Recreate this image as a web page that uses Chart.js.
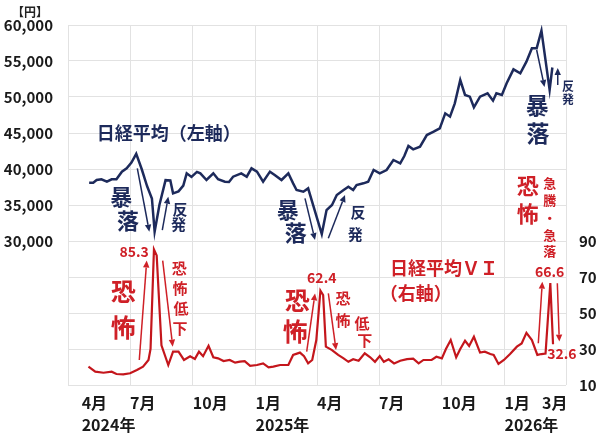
<!DOCTYPE html>
<html><head><meta charset="utf-8">
<script src="https://cdn.jsdelivr.net/npm/chart.js@4"></script>
<style>html,body{margin:0;padding:0;background:#fff;}#wrap{width:600px;height:433px;position:relative;}</style>
</head><body><div id="wrap"><canvas id="c"></canvas></div>
<script>
// x values: days since 2024-04-01
const nikkeiDays = [31,37,42,49,57,64,71,79,86,93,100,108,116,123,127,134,143,150,154,162,169,174,181,189,194,203,213,220,230,236,242,254,262,269,277,286,296,303,313,323,330,335,345,352,360,372,379,387,394,404,411,418,423,433,440,448,457,467,477,487,493,499,506,516,526,536,545,553,560,567,575,582,589,595,604,615,623,628,636,643,653,663,672,680,687,694,706,710];
const nikkeiValues = [38100,38100,38470,38570,38240,38570,38570,39630,40090,40900,42100,40000,37600,35900,31300,35000,38450,38400,36620,36900,37700,39400,38900,39600,39400,38470,39400,38570,38240,38200,38930,39400,38930,40090,39630,38240,39630,39170,38470,39400,38010,37080,36850,37310,34770,30970,34300,35000,36390,37080,37540,37080,37780,38010,38240,39860,39400,39860,41250,40790,41800,43200,42730,43100,44720,45180,45650,47730,47270,49120,52360,50280,50050,48570,50050,50510,49490,50510,50280,51900,53840,53290,54910,56760,56760,59210,51000,54100];
const viDays = [30,40,52,64,71,81,91,101,110,118,121,126,130,137,147,154,162,170,179,186,192,198,206,213,220,228,237,245,252,259,267,277,286,294,301,311,323,330,340,346,352,358,364,370,374,378,387,396,404,411,418,426,435,443,450,457,463,470,478,487,497,506,514,521,533,540,548,554,561,569,575,582,588,595,604,611,619,624,631,639,648,658,665,672,680,688,694,700,707,711];
const viValues = [20.2,17.4,16.8,17.4,16.1,15.9,16.5,18.3,20.2,23.9,30,85.3,82,32,21.1,28.5,28.5,23.9,26,24.5,28.5,26,31.8,25.4,24.8,23.3,23.9,22.4,23,23.3,20.6,21.1,22,19.8,20.2,21.1,21.1,26.7,28,26,22,23.9,35,62.4,60,31.3,29.4,26.7,24.8,22.9,24.3,23.5,27.6,25.4,22.9,26.1,22.9,24.3,22,23.5,24.4,24.6,22,23.9,23.9,25.7,24.8,30,35,25.4,30,34.6,31.7,36.8,28,28.5,27.2,26.7,21.7,23.9,27.2,31.3,33.1,39,35,26.7,27.2,27.5,66.6,32.6];

const monthTickDays = [20,91,183,275,365,456,548,640,695];
const monthTickLabels = [['4月','2024年'],'7月','10月',['1月','2025年'],'4月','7月','10月',['1月','2026年'],'3月'];
const quarterGridDays = [0,91,183,275,365,456,548,640,730];

const NAVY = '#1d2a5b', RED = '#cf2027', REDLINE = '#c4161c';
const notes = [
  {t:'日経平均（左軸）', x:42, y:45000, ax:'y', c:NAVY, s:18, a:'left'},
  {t:'暴', x:78, y:36100, ax:'y', c:NAVY, s:22},
  {t:'落', x:88, y:32800, ax:'y', c:NAVY, s:22},
  {t:'反', x:164, y:34450, ax:'y', c:NAVY, s:15},
  {t:'発', x:162, y:32350, ax:'y', c:NAVY, s:15},
  {t:'暴', x:322, y:34300, ax:'y', c:NAVY, s:22},
  {t:'落', x:334, y:31100, ax:'y', c:NAVY, s:22},
  {t:'反', x:425, y:34000, ax:'y', c:NAVY, s:15},
  {t:'発', x:421, y:30950, ax:'y', c:NAVY, s:15},
  {t:'暴', x:688, y:48900, ax:'y', c:NAVY, s:23},
  {t:'落', x:689, y:45000, ax:'y', c:NAVY, s:23},
  {t:'反', x:733, y:51500, ax:'y', c:NAVY, s:12},
  {t:'発', x:733, y:49600, ax:'y', c:NAVY, s:12},
  {t:'恐', x:81, y:61.7, ax:'y2', c:RED, s:25},
  {t:'怖', x:81, y:42.2, ax:'y2', c:RED, s:25},
  {t:'85.3', x:97, y:83.9, ax:'y2', c:RED, s:14},
  {t:'恐', x:163, y:75, ax:'y2', c:RED, s:15},
  {t:'怖', x:164, y:63.9, ax:'y2', c:RED, s:15},
  {t:'低', x:165.5, y:52.8, ax:'y2', c:RED, s:15},
  {t:'下', x:164, y:41.7, ax:'y2', c:RED, s:15},
  {t:'恐', x:336, y:57.2, ax:'y2', c:RED, s:25},
  {t:'怖', x:333, y:40, ax:'y2', c:RED, s:25},
  {t:'62.4', x:372, y:69.4, ax:'y2', c:RED, s:14},
  {t:'恐', x:403, y:58.3, ax:'y2', c:RED, s:15},
  {t:'怖', x:403, y:46.1, ax:'y2', c:RED, s:15},
  {t:'低', x:431, y:44.4, ax:'y2', c:RED, s:15},
  {t:'下', x:435, y:35, ax:'y2', c:RED, s:15},
  {t:'日経平均ＶＩ', x:472, y:75, ax:'y2', c:RED, s:18, a:'left'},
  {t:'（右軸）', x:457, y:61.1, ax:'y2', c:RED, s:18, a:'left'},
  {t:'恐', x:674, y:120.6, ax:'y2', c:RED, s:22},
  {t:'怖', x:674, y:105, ax:'y2', c:RED, s:22},
  {t:'急', x:706, y:122.2, ax:'y2', c:RED, s:13},
  {t:'騰', x:706, y:112.8, ax:'y2', c:RED, s:13},
  {t:'・', x:706, y:102.8, ax:'y2', c:RED, s:13},
  {t:'急', x:706, y:93.3, ax:'y2', c:RED, s:13},
  {t:'落', x:706, y:84.4, ax:'y2', c:RED, s:13},
  {t:'66.6', x:706, y:72.8, ax:'y2', c:RED, s:14},
  {t:'32.6', x:724, y:27.2, ax:'y2', c:RED, s:14}
];
const arrows = [
  {x1:101.6,y1:40100,x2:119.2,y2:31300, ax:'y', c:NAVY},
  {x1:138.2,y1:31500,x2:147,y2:36150, ax:'y', c:NAVY},
  {x1:347.4,y1:35930,x2:362.1,y2:30140, ax:'y', c:NAVY},
  {x1:381.6,y1:30380,x2:406.1,y2:36390, ax:'y', c:NAVY},
  {x1:687,y1:56530,x2:698.5,y2:51390, ax:'y', c:NAVY},
  {x1:717.9,y1:51670,x2:717.9,y2:54030, ax:'y', c:NAVY},
  {x1:104.5,y1:23.9,x2:115.4,y2:79.1, ax:'y2', c:RED},
  {x1:138.8,y1:79.1,x2:153.5,y2:31.3, ax:'y2', c:RED},
  {x1:349.9,y1:28.5,x2:362.1,y2:60.9, ax:'y2', c:RED},
  {x1:381.6,y1:60.9,x2:392.9,y2:29.4, ax:'y2', c:RED},
  {x1:689.4,y1:33.2,x2:695.3,y2:67.4, ax:'y2', c:RED},
  {x1:717.3,y1:66.5,x2:720.2,y2:34.1, ax:'y2', c:RED}
];

const FONT = "'Noto Sans CJK JP', 'Noto Sans', sans-serif";

const notesPlugin = {
  id: 'notes',
  afterDatasetsDraw(chart) {
    const {ctx, scales, chartArea} = chart;
    const X = scales.x;
    const P = (d, v, ax) => [X.getPixelForValue(d), scales[ax].getPixelForValue(v)];
    ctx.save();
    arrows.forEach(a => {
      const [x1, y1] = P(a.x1, a.y1, a.ax);
      const [x2, y2] = P(a.x2, a.y2, a.ax);
      const ang = Math.atan2(y2 - y1, x2 - x1);
      const L = 7, W = 3.2;
      const bx = x2 - L * Math.cos(ang), by = y2 - L * Math.sin(ang);
      ctx.strokeStyle = a.c; ctx.fillStyle = a.c; ctx.lineWidth = 1.5;
      ctx.beginPath(); ctx.moveTo(x1, y1); ctx.lineTo(bx, by); ctx.stroke();
      ctx.beginPath();
      ctx.moveTo(x2, y2);
      ctx.lineTo(bx + W * Math.sin(ang), by - W * Math.cos(ang));
      ctx.lineTo(bx - W * Math.sin(ang), by + W * Math.cos(ang));
      ctx.closePath(); ctx.fill();
    });
    notes.forEach(n => {
      const [x, y] = P(n.x, n.y, n.ax);
      ctx.font = `bold ${n.s}px ${FONT}`;
      ctx.fillStyle = n.c;
      ctx.textAlign = n.a || 'center';
      ctx.textBaseline = 'middle';
      ctx.fillText(n.t, x, y);
    });
    const Y = scales.y;
    ctx.font = `bold 12px ${FONT}`;
    ctx.fillStyle = '#222';
    ctx.textAlign = 'center';
    ctx.textBaseline = 'middle';
    ctx.fillText('【円】', (Y.left + Y.right) / 2 - 4, chartArea.top - 13);
    ctx.restore();
  }
};

const fmt = v => String(v).replace(/\B(?=(\d{3})+(?!\d))/g, ',');

new Chart(document.getElementById('c'), {
  type: 'line',
  data: {
    datasets: [
      {
        label: '日経平均',
        data: nikkeiDays.map((d, i) => ({x: d, y: nikkeiValues[i]})),
        borderColor: NAVY, borderWidth: 2.5, pointRadius: 0, tension: 0,
        yAxisID: 'y'
      },
      {
        label: '日経平均VI',
        data: viDays.map((d, i) => ({x: d, y: viValues[i]})),
        borderColor: REDLINE, borderWidth: 2.2, pointRadius: 0, tension: 0,
        yAxisID: 'y2'
      }
    ]
  },
  options: {
    responsive: true, maintainAspectRatio: false, animation: false,
    layout: {padding: {top: 25, left: 0, right: 0, bottom: 0}},
    plugins: {legend: {display: false}, tooltip: {enabled: false}},
    scales: {
      x: {
        type: 'linear', min: 0, max: 730,
        afterBuildTicks: s => {
          const vals = [...new Set([...quarterGridDays, ...monthTickDays])].sort((a, b) => a - b);
          s.ticks = vals.map(v => ({value: v}));
        },
        afterFit: s => { s.height = 48; },
        ticks: {
          autoSkip: false, maxRotation: 0, align: 'start', padding: 7,
          color: '#1a1a1a', font: {family: FONT, size: 16, weight: 'bold', lineHeight: 1.375},
          callback: v => { const i = monthTickDays.indexOf(v); return i >= 0 ? monthTickLabels[i] : ''; }
        },
        grid: {
          drawTicks: false, lineWidth: 1,
          color: c => (c.tick && quarterGridDays.includes(c.tick.value)) ? '#e2e2e2' : 'rgba(0,0,0,0)'
        },
        border: {display: false}
      },
      y: {
        position: 'left', min: 10000, max: 60000,
        afterFit: s => { s.width = 68; },
        ticks: {
          stepSize: 5000, padding: 15, color: '#1a1a1a',
          font: {family: FONT, size: 15, weight: 'bold'},
          callback: v => v >= 30000 ? fmt(v) : ''
        },
        grid: {drawTicks: false, color: '#e2e2e2', lineWidth: 1},
        border: {display: false}
      },
      y2: {
        position: 'right', min: 10, max: 210,
        afterFit: s => { s.width = 34; },
        ticks: {
          stepSize: 20, padding: 13, color: '#1a1a1a',
          font: {family: FONT, size: 15, weight: 'bold'},
          callback: v => v <= 90 ? String(v) : ''
        },
        grid: {display: false, drawTicks: false},
        border: {display: false}
      }
    }
  },
  plugins: [notesPlugin]
});
</script></body></html>
